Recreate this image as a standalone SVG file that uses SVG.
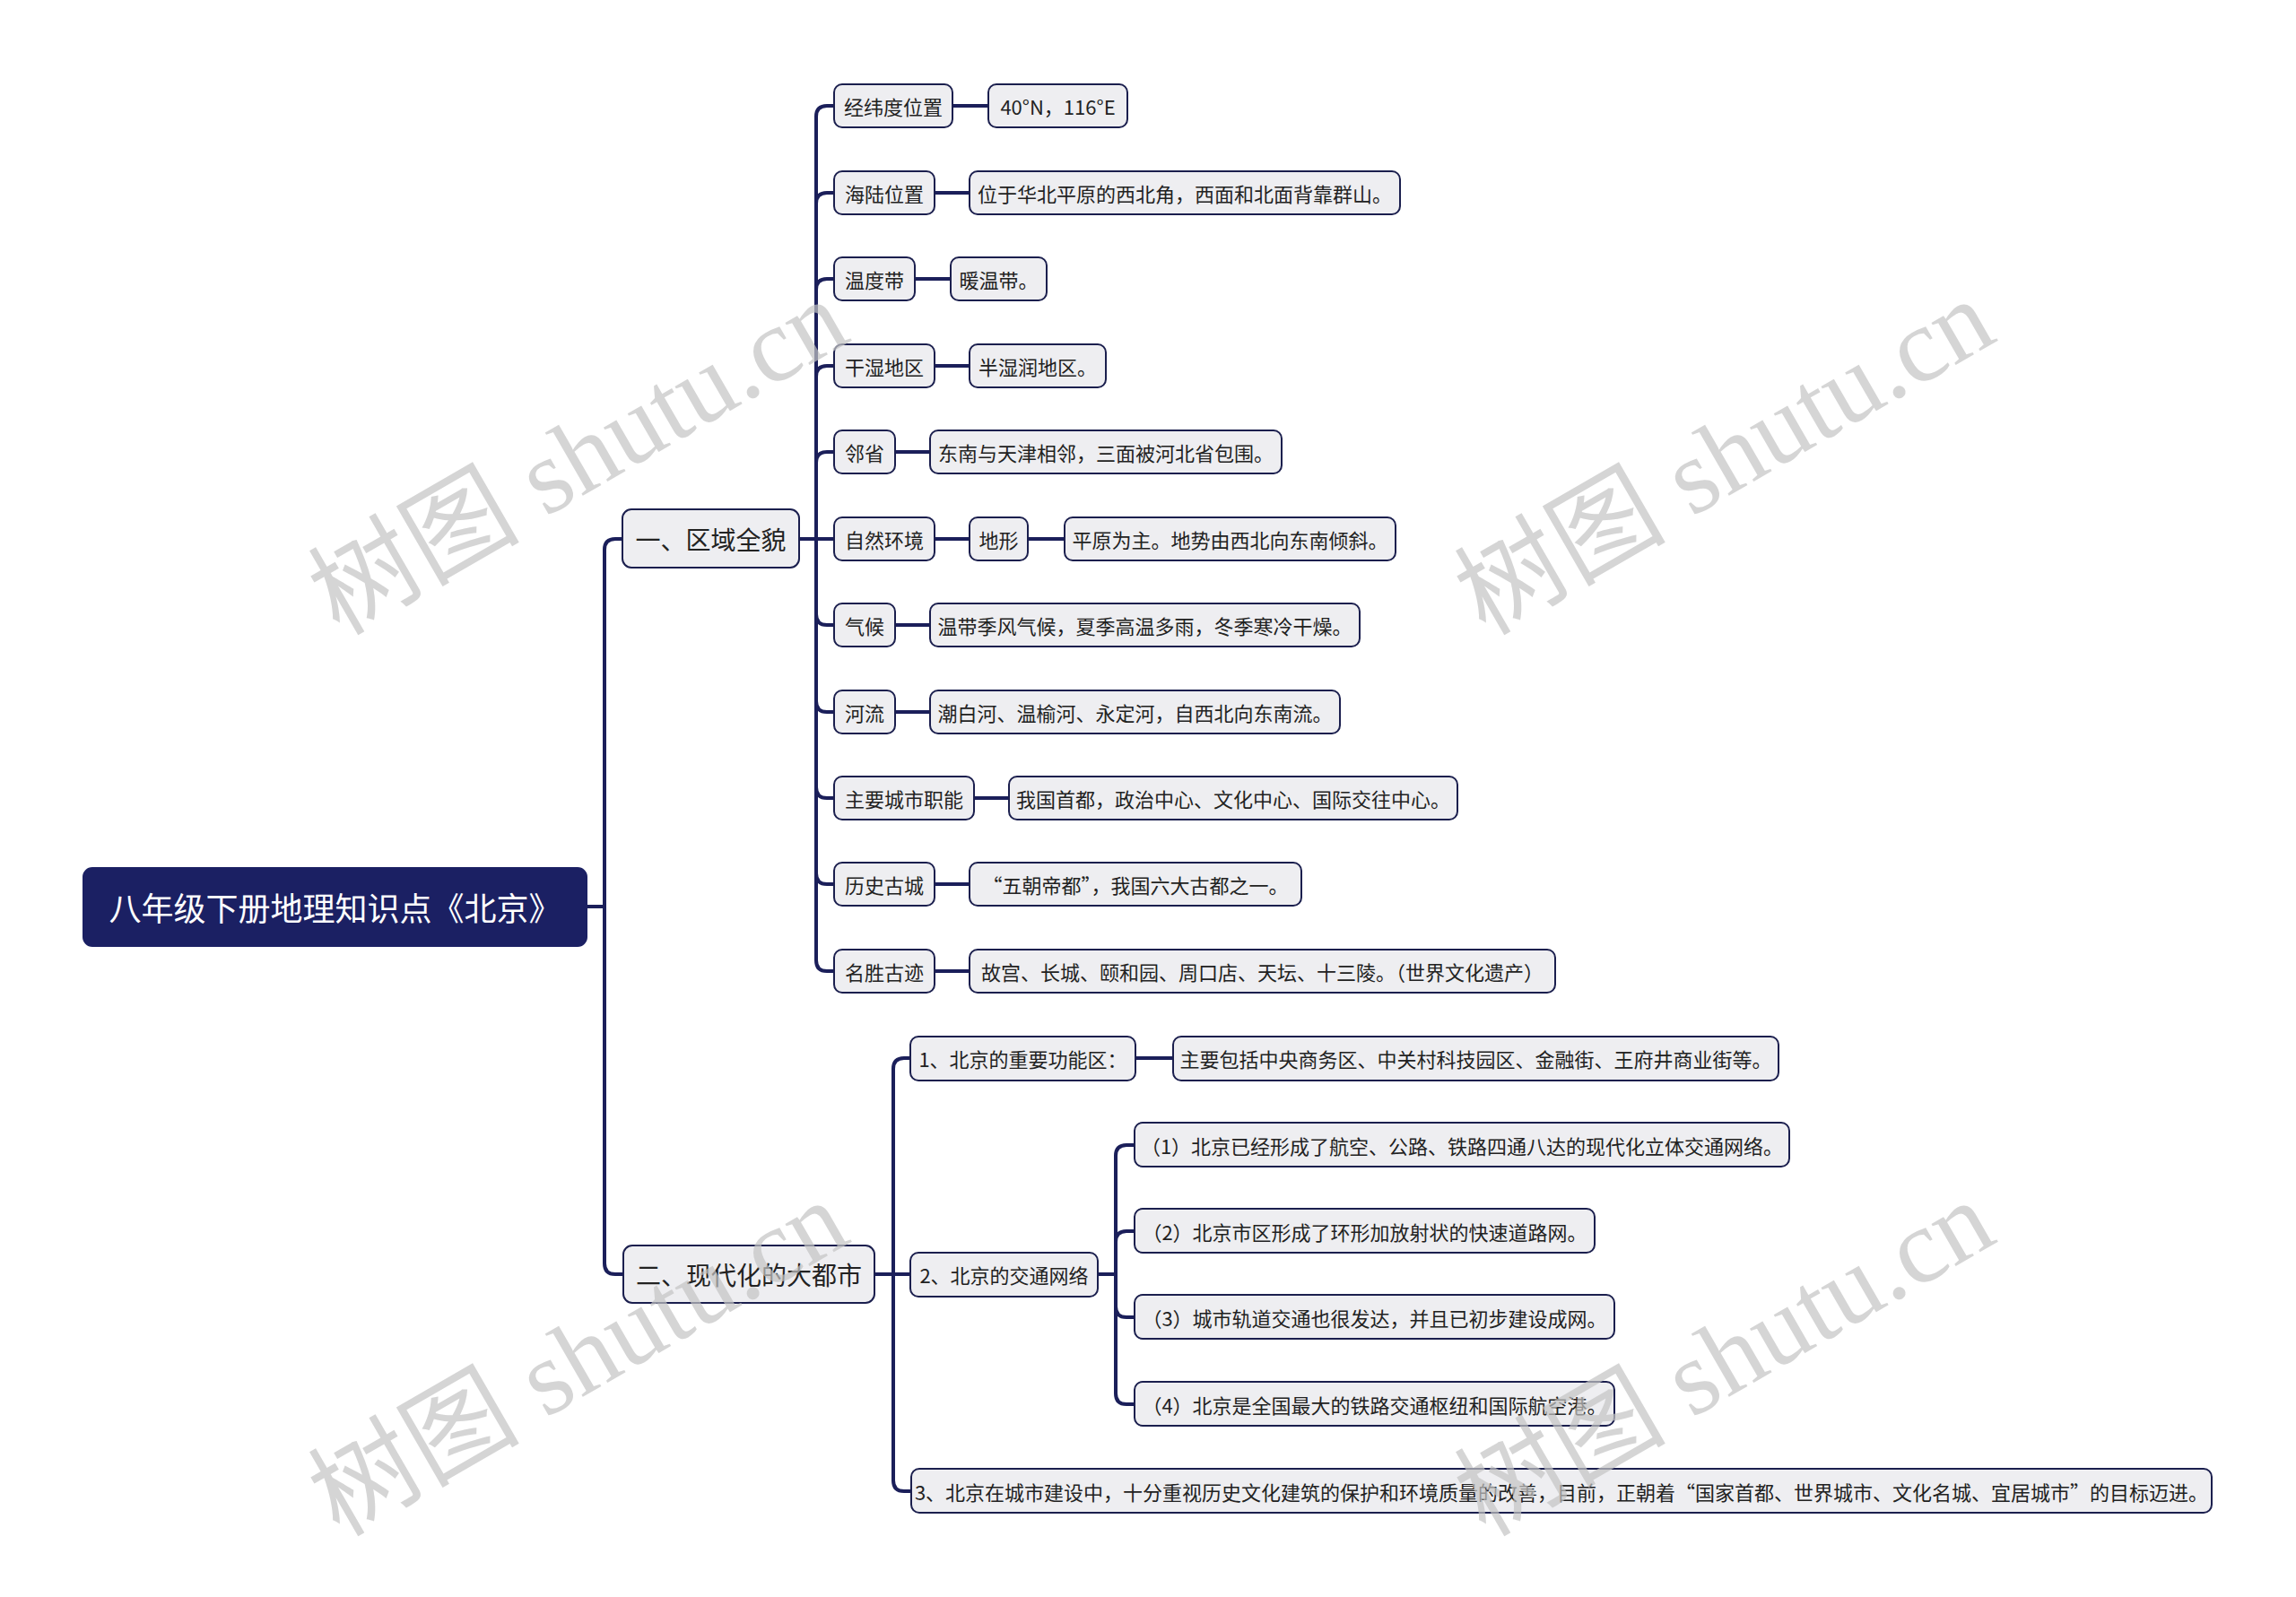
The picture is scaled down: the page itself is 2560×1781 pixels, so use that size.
<svg xmlns="http://www.w3.org/2000/svg" width="2560" height="1781" viewBox="0 0 2560 1781">
<style>
.bg{fill:#ffffff}
.box{fill:#eeeef1;stroke:#1b1f4e;stroke-width:2}
.root{fill:#1b2063;stroke:#1b2063;stroke-width:2}
.link{fill:none;stroke:#1b1f5a;stroke-width:4;stroke-linecap:butt}
text{font-family:"Noto Sans CJK SC","Noto Sans",sans-serif;fill:#222;text-anchor:middle;dominant-baseline:central}
.t22{font-size:22px}
.t28{font-size:28px}
.t36{font-size:36px;fill:#ffffff}
.wm{font-family:"Liberation Serif","Noto Sans CJK SC",serif;font-size:118px;fill:#c4c4c4;opacity:0.7;text-anchor:middle;dominant-baseline:central}
</style>
<rect class="bg" x="0" y="0" width="2560" height="1781"/>

<g id="connectors">
  <path class="link" d="M654,1011 H674 V613 Q674,601 686,601 H694"/>
  <path class="link" d="M654,1011 H674 V1409 Q674,1421 686,1421 H694"/>

  <path class="link" d="M891,601 H910 V130 Q910,118 922,118 H930"/>
  <path class="link" d="M891,601 H910 V227 Q910,215 922,215 H930"/>
  <path class="link" d="M891,601 H910 V323 Q910,311 922,311 H930"/>
  <path class="link" d="M891,601 H910 V420 Q910,408 922,408 H930"/>
  <path class="link" d="M891,601 H910 V516 Q910,504 922,504 H930"/>
  <path class="link" d="M891,601 H930"/>
  <path class="link" d="M891,601 H910 V685 Q910,697 922,697 H930"/>
  <path class="link" d="M891,601 H910 V782 Q910,794 922,794 H930"/>
  <path class="link" d="M891,601 H910 V878 Q910,890 922,890 H930"/>
  <path class="link" d="M891,601 H910 V974 Q910,986 922,986 H930"/>
  <path class="link" d="M891,601 H910 V1071 Q910,1083 922,1083 H930"/>

  <path class="link" d="M1062,118 H1102"/>
  <path class="link" d="M1042,215 H1081"/>
  <path class="link" d="M1020,311 H1060"/>
  <path class="link" d="M1042,408 H1081"/>
  <path class="link" d="M998,504 H1037"/>
  <path class="link" d="M1042,601 H1081"/>
  <path class="link" d="M1146,601 H1187"/>
  <path class="link" d="M998,697 H1037"/>
  <path class="link" d="M998,794 H1037"/>
  <path class="link" d="M1086,890 H1125"/>
  <path class="link" d="M1042,986 H1081"/>
  <path class="link" d="M1042,1083 H1081"/>

  <path class="link" d="M975,1421 H996 V1192 Q996,1180 1008,1180 H1015"/>
  <path class="link" d="M975,1421 H1015"/>
  <path class="link" d="M975,1421 H996 V1651 Q996,1663 1008,1663 H1016"/>
  <path class="link" d="M1266,1180 H1308"/>

  <path class="link" d="M1224,1421 H1244 V1289 Q1244,1277 1256,1277 H1265"/>
  <path class="link" d="M1224,1421 H1244 V1385 Q1244,1373 1256,1373 H1265"/>
  <path class="link" d="M1224,1421 H1244 V1457 Q1244,1469 1256,1469 H1265"/>
  <path class="link" d="M1224,1421 H1244 V1554 Q1244,1566 1256,1566 H1265"/>
</g>

<g id="root">
  <rect class="root" x="93" y="968" width="561" height="87" rx="10"/>
  <text class="t36" x="373.5" y="1011">八年级下册地理知识点《北京》</text>
</g>

<g id="n1">
  <rect class="box" x="694" y="568" width="197" height="65" rx="10"/>
  <text class="t28" x="792.5" y="601">一、区域全貌</text>
</g>
<g id="n2">
  <rect class="box" x="695" y="1389" width="280" height="64" rx="10"/>
  <text class="t28" x="835" y="1421">二、现代化的大都市</text>
</g>

<g id="n1-1"><rect class="box" x="930" y="94" width="132" height="48" rx="9"/><text class="t22" x="996" y="118">经纬度位置</text></g>
<g id="n1-1v"><rect class="box" x="1102" y="94" width="155" height="48" rx="9"/><text class="t22" x="1179.5" y="118">40°N，116°E</text></g>

<g id="n1-2"><rect class="box" x="930" y="191" width="112" height="48" rx="9"/><text class="t22" x="986" y="215">海陆位置</text></g>
<g id="n1-2v"><rect class="box" x="1081" y="191" width="480" height="48" rx="9"/><text class="t22" x="1321" y="215">位于华北平原的西北角，西面和北面背靠群山。</text></g>

<g id="n1-3"><rect class="box" x="930" y="287" width="90" height="48" rx="9"/><text class="t22" x="975" y="311">温度带</text></g>
<g id="n1-3v"><rect class="box" x="1060" y="287" width="107" height="48" rx="9"/><text class="t22" x="1113.5" y="311">暖温带。</text></g>

<g id="n1-4"><rect class="box" x="930" y="384" width="112" height="48" rx="9"/><text class="t22" x="986" y="408">干湿地区</text></g>
<g id="n1-4v"><rect class="box" x="1081" y="384" width="152" height="48" rx="9"/><text class="t22" x="1157" y="408">半湿润地区。</text></g>

<g id="n1-5"><rect class="box" x="930" y="480" width="68" height="48" rx="9"/><text class="t22" x="964" y="504">邻省</text></g>
<g id="n1-5v"><rect class="box" x="1037" y="480" width="392" height="48" rx="9"/><text class="t22" x="1233" y="504">东南与天津相邻，三面被河北省包围。</text></g>

<g id="n1-6"><rect class="box" x="930" y="577" width="112" height="48" rx="9"/><text class="t22" x="986" y="601">自然环境</text></g>
<g id="n1-6a"><rect class="box" x="1081" y="577" width="65" height="48" rx="9"/><text class="t22" x="1113.5" y="601">地形</text></g>
<g id="n1-6v"><rect class="box" x="1187" y="577" width="369" height="48" rx="9"/><text class="t22" x="1371.5" y="601">平原为主。地势由西北向东南倾斜。</text></g>

<g id="n1-7"><rect class="box" x="930" y="673" width="68" height="48" rx="9"/><text class="t22" x="964" y="697">气候</text></g>
<g id="n1-7v"><rect class="box" x="1037" y="673" width="479" height="48" rx="9"/><text class="t22" x="1276.5" y="697">温带季风气候，夏季高温多雨，冬季寒冷干燥。</text></g>

<g id="n1-8"><rect class="box" x="930" y="770" width="68" height="48" rx="9"/><text class="t22" x="964" y="794">河流</text></g>
<g id="n1-8v"><rect class="box" x="1037" y="770" width="457" height="48" rx="9"/><text class="t22" x="1265.5" y="794">潮白河、温榆河、永定河，自西北向东南流。</text></g>

<g id="n1-9"><rect class="box" x="930" y="866" width="156" height="48" rx="9"/><text class="t22" x="1008" y="890">主要城市职能</text></g>
<g id="n1-9v"><rect class="box" x="1125" y="866" width="500" height="48" rx="9"/><text class="t22" x="1375" y="890">我国首都，政治中心、文化中心、国际交往中心。</text></g>

<g id="n1-10"><rect class="box" x="930" y="962" width="112" height="48" rx="9"/><text class="t22" x="986" y="986">历史古城</text></g>
<g id="n1-10v"><rect class="box" x="1081" y="962" width="370" height="48" rx="9"/><text class="t22" x="1266" y="986">“五朝帝都”，我国六大古都之一。</text></g>

<g id="n1-11"><rect class="box" x="930" y="1059" width="112" height="48" rx="9"/><text class="t22" x="986" y="1083">名胜古迹</text></g>
<g id="n1-11v"><rect class="box" x="1081" y="1059" width="653" height="48" rx="9"/><text class="t22" x="1407.5" y="1083">故宫、长城、颐和园、周口店、天坛、十三陵。（世界文化遗产）</text></g>

<g id="n2-1"><rect class="box" x="1015" y="1156" width="251" height="49" rx="9"/><text class="t22" x="1140.5" y="1180">1、北京的重要功能区：</text></g>
<g id="n2-1v"><rect class="box" x="1308" y="1156" width="675" height="49" rx="9"/><text class="t22" x="1645.5" y="1180">主要包括中央商务区、中关村科技园区、金融街、王府井商业街等。</text></g>

<g id="n2-2"><rect class="box" x="1015" y="1397" width="209" height="49" rx="9"/><text class="t22" x="1119.5" y="1421">2、北京的交通网络</text></g>
<g id="n2-2-1"><rect class="box" x="1265" y="1252" width="730" height="49" rx="9"/><text class="t22" x="1630" y="1277">（1）北京已经形成了航空、公路、铁路四通八达的现代化立体交通网络。</text></g>
<g id="n2-2-2"><rect class="box" x="1265" y="1348" width="513" height="49" rx="9"/><text class="t22" x="1521.5" y="1373">（2）北京市区形成了环形加放射状的快速道路网。</text></g>
<g id="n2-2-3"><rect class="box" x="1265" y="1444" width="535" height="49" rx="9"/><text class="t22" x="1532.5" y="1469">（3）城市轨道交通也很发达，并且已初步建设成网。</text></g>
<g id="n2-2-4"><rect class="box" x="1265" y="1541" width="535" height="49" rx="9"/><text class="t22" x="1532.5" y="1566">（4）北京是全国最大的铁路交通枢纽和国际航空港。</text></g>

<g id="n2-3"><rect class="box" x="1016" y="1638" width="1450" height="49" rx="9"/><text class="t22" x="1741" y="1663">3、北京在城市建设中，十分重视历史文化建筑的保护和环境质量的改善，目前，正朝着“国家首都、世界城市、文化名城、宜居城市”的目标迈进。</text></g>

<g id="watermarks">
  <text class="wm" transform="translate(645,510) rotate(-30)">树图 shutu.cn</text>
  <text class="wm" transform="translate(1923,510) rotate(-30)">树图 shutu.cn</text>
  <text class="wm" transform="translate(645,1515) rotate(-30)">树图 shutu.cn</text>
  <text class="wm" transform="translate(1923,1515) rotate(-30)">树图 shutu.cn</text>
</g>
</svg>
